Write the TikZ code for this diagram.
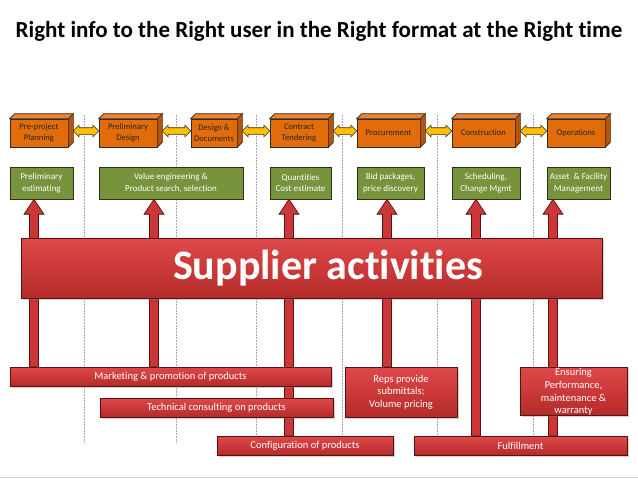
\documentclass[tikz,border=0pt]{standalone}
\usepackage{fontspec}
\setmainfont{Carlito}[Ligatures=NoCommon]
\usetikzlibrary{shapes.arrows,shadows,calc}
\pgfdeclarelayer{background}
\pgfsetlayers{background,main}
\definecolor{orng}{HTML}{E36C0A}
\definecolor{orngtop}{HTML}{EC8232}
\definecolor{orngside}{HTML}{B45509}
\definecolor{grn}{HTML}{77933C}
\definecolor{redtop}{HTML}{E04848}
\definecolor{redbot}{HTML}{B52B2B}
\definecolor{redfill}{HTML}{CC3636}
\definecolor{redline}{HTML}{541212}
\definecolor{yel}{HTML}{FFC000}
\definecolor{dk}{HTML}{3A2A1A}
\definecolor{sepgray}{HTML}{A8A8A8}
\definecolor{edgeline}{HTML}{C8D0D8}
\tikzset{
  phase/.style={draw=dk, line width=0.6pt, fill=orng, minimum height=28, inner sep=1pt,
    align=center, text=black!85, font=\fontsize{8.6}{11}\selectfont},
  act/.style={draw=dk, line width=0.6pt, fill=grn, minimum height=32, inner sep=1pt,
    align=center, text=white, font=\fontsize{9}{11.5}\selectfont},
  bar/.style={draw=redline, line width=0.6pt, top color=redtop, bottom color=redbot,
    text=white, font=\fontsize{10.5}{12.6}\selectfont, align=center, inner sep=1pt,
    drop shadow={opacity=0.35, shadow xshift=1.5pt, shadow yshift=-1.5pt}},
  dbl/.style={double arrow, draw=dk, fill=yel, line width=0.6pt, inner xsep=0pt,
    inner ysep=3pt, double arrow head extend=2.5pt, double arrow tip angle=90},
  sepline/.style={draw=sepgray, line width=0.6pt, dash pattern=on 1.5pt off 1.5pt},
  redarr/.style={fill=redfill, draw=redline, line width=0.7pt},
  uparr/.style={to path={let \p1=(\tikztostart), \p2=(\tikztotarget) in
    (\x1-4.5pt,\y1) -- (\x1-4.5pt,\y2-15pt) -- (\x1-10pt,\y2-15pt) -- (\x1,\y2)
    -- (\x1+10pt,\y2-15pt) -- (\x1+4.5pt,\y2-15pt) -- (\x1+4.5pt,\y1) -- cycle}}
}
\newcommand\cubefaces[1]{%
  \filldraw[draw=dk, line width=0.6pt, fill=orngtop] (#1.north west) -- ++(5pt,5pt)
    -- ([shift={(5pt,5pt)}]#1.north east) -- (#1.north east) -- cycle;
  \filldraw[draw=dk, line width=0.6pt, fill=orngside] (#1.north east) -- ++(5pt,5pt)
    -- ([shift={(5pt,5pt)}]#1.south east) -- (#1.south east) -- cycle;}
\newcommand\phaselink[2]{%
  \path let \p1=(#1.east), \p2=(#2.west) in
    node[dbl, minimum height={\x2-\x1-5pt}] (#1#2) at ({(\x1+5pt+\x2)/2},{\y1+2pt}) {};}
\begin{document}
\begin{tikzpicture}[x=1pt,y=-1pt]
\useasboundingbox (0,0) rectangle (638,479);
\begin{pgfonlayer}{background}
  \fill[white] (0,0) rectangle (638,479);
  \foreach \x in {84,176,256,342,437,533} \draw[sepline] (\x,115) -- (\x,443);
\end{pgfonlayer}
\draw[line width=1.5pt, edgeline] (0,477.5) -- (638,477.5);

% title
\node[font=\fontsize{23}{27}\selectfont\bfseries] (title) at (319,31)
  {Right info to the Right user in the Right format at the Right time};

% phases
\node[phase, minimum width=58] (p1) at (39,133) {Pre-project\\Planning};
\node[phase, minimum width=58] (p2) at (128,133) {Preliminary\\Design};
\node[phase, minimum width=46] (p3) at (214,133) {Design \&\\Documents};
\node[phase, minimum width=58] (p4) at (299,133) {Contract\\Tendering};
\node[phase, minimum width=63] (p5) at (388.5,133) {Procurement};
\node[phase, minimum width=63] (p6) at (483.5,133) {Construction};
\node[phase, minimum width=58] (p7) at (576,133) {Operations};
\foreach \n in {p1,p2,p3,p4,p5,p6,p7} {\cubefaces{\n}}
\phaselink{p1}{p2}
\phaselink{p2}{p3}
\phaselink{p3}{p4}
\phaselink{p4}{p5}
\phaselink{p5}{p6}
\phaselink{p6}{p7}

% activities
\node[act, minimum width=63] (g1) at (41.5,183) {Preliminary\\estimating};
\node[act, minimum width=144] (g2) at (171,183) {Value engineering \&\\Product search, selection};
\node[act, minimum width=61] (g3) at (300.5,183) {Quantities\\Cost estimate};
\node[act, minimum width=67] (g4) at (390.5,183) {Bid packages,\\price discovery};
\node[act, minimum width=68] (g5) at (486,183) {Scheduling,\\Change Mgmt};
\node[act, minimum width=63] (g6) at (578.5,183) {Asset~ \& Facility\\Management};

% supplier activities bar
\node[bar, minimum width=581, minimum height=60] (sa) at (311.5,268) {};
\node[text=white, font=\fontsize{42}{50}\selectfont\bfseries] (satext) at (328,268) {Supplier activities};

% bottom bars
\node[bar, minimum width=321, minimum height=19] (mk) at (170.5,376.5) {Marketing \& promotion of products};
\node[bar, minimum width=233, minimum height=19] (tc) at (216.5,407.5) {Technical consulting on products};
\node[bar, minimum width=176, minimum height=19] (cf) at (305,445.5) {Configuration of products};
\node[bar, minimum width=213, minimum height=19] (ff) at (520.5,445.5) {Fulfillment};
\node[bar, minimum width=112, minimum height=50] (rp) at (401,392) {Reps provide\\submittals;\\Volume pricing};
\node[bar, minimum width=107, minimum height=48] (en) at (573.5,391) {};
\node[text=white, font=\fontsize{10.5}{12.6}\selectfont, align=center] (entext) at (573.5,392)
  {Ensuring\\Performance,\\maintenance \&\\warranty};

% up arrows
\coordinate (c1) at (34,0);
\coordinate (c2) at (154,0);
\coordinate (c3) at (289,0);
\coordinate (c4) at (387,0);
\coordinate (c5) at (476,0);
\coordinate (c6) at (553,0);
\begin{pgfonlayer}{background}
  \draw[redarr] (mk.north -| c1) to[uparr] (g1.south -| c1);
  \draw[redarr] (mk.north -| c2) to[uparr] (g2.south -| c2);
  \draw[redarr] (cf.north -| c3) to[uparr] (g3.south -| c3);
  \draw[redarr] (rp.north -| c4) to[uparr] (g4.south -| c4);
  \draw[redarr] (ff.north -| c5) to[uparr] (g5.south -| c5);
  \draw[redarr] (ff.north -| c6) to[uparr] (g6.south -| c6);
\end{pgfonlayer}
\end{tikzpicture}
\end{document}
